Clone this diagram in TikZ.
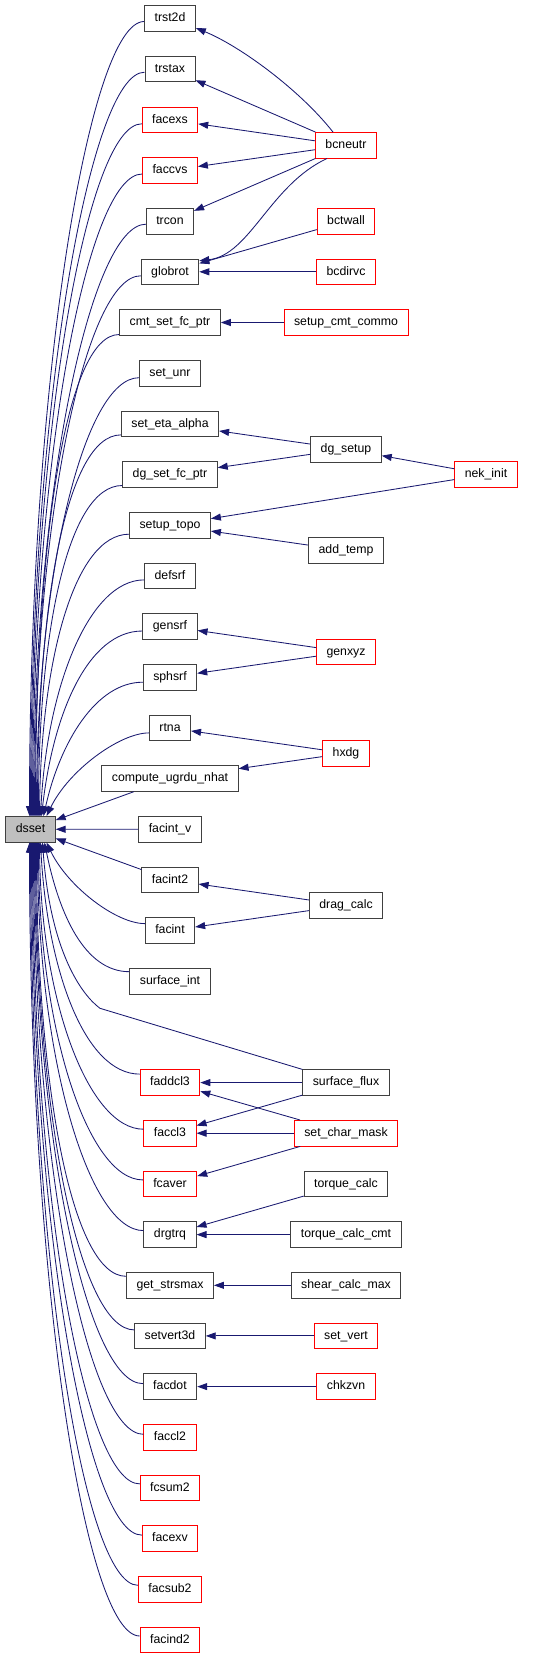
\documentclass[tikz,border=0pt]{standalone}
\usepackage{fontspec}
\setmainfont{Liberation Sans}
\usetikzlibrary{arrows.meta,calc}
\definecolor{edgeblue}{HTML}{191970}
\definecolor{boxline}{HTML}{404040}

\begin{document}
\begin{tikzpicture}[x=1pt,y=1pt,
  box/.style={draw=boxline,line width=0.9pt,fill=white,minimum height=25.5pt,inner xsep=10pt,
    text height=9pt,text depth=2.5pt,font=\fontsize{12.3}{14}\selectfont},
  redbox/.style={box,draw=red},
  callarr/.style={draw=edgeblue,line width=0.85pt,{Triangle[length=10pt,width=7pt]}-}]
\useasboundingbox (0,0) rectangle (552,-1659);

% the function itself
\node[box,fill=gray!50] (dsset) at (30.5,-829.3) {dsset};

% direct callers
\node[box] (trst2d) at (170,-18.5) {trst2d};
\node[box] (trstax) at (170,-69.2) {trstax};
\node[redbox] (facexs) at (170,-119.8) {facexs};
\node[redbox] (faccvs) at (170,-170.5) {faccvs};
\node[box] (trcon) at (170,-221.2) {trcon};
\node[box] (globrot) at (170,-271.8) {globrot};
\node[box] (cmtfc) at (170,-322.5) {cmt\_set\_fc\_ptr};
\node[box] (setunr) at (170,-373.2) {set\_unr};
\node[box] (setetaalpha) at (170,-423.9) {set\_eta\_alpha};
\node[box] (dgsetfc) at (170,-474.5) {dg\_set\_fc\_ptr};
\node[box] (setuptopo) at (170,-525.2) {setup\_topo};
\node[box] (defsrf) at (170,-575.9) {defsrf};
\node[box] (gensrf) at (170,-626.5) {gensrf};
\node[box] (sphsrf) at (170,-677.2) {sphsrf};
\node[box] (rtna) at (170,-727.9) {rtna};
\node[box] (computeugrdu) at (170,-778.5) {compute\_ugrdu\_nhat};
\node[box] (facintv) at (170,-829.2) {facint\_v};
\node[box] (facint2) at (170,-879.9) {facint2};
\node[box] (facint) at (170,-930.6) {facint};
\node[box] (surfaceint) at (170,-981.2) {surface\_int};
\node[redbox] (faddcl3) at (170,-1082.6) {faddcl3};
\node[redbox] (faccl3) at (170,-1133.2) {faccl3};
\node[redbox] (fcaver) at (170,-1183.9) {fcaver};
\node[box] (drgtrq) at (170,-1234.6) {drgtrq};
\node[box] (getstrsmax) at (170,-1285.3) {get\_strsmax};
\node[box] (setvert3d) at (170,-1335.9) {setvert3d};
\node[box] (facdot) at (170,-1386.6) {facdot};
\node[redbox] (faccl2) at (170,-1437.3) {faccl2};
\node[redbox] (fcsum2) at (170,-1487.9) {fcsum2};
\node[redbox] (facexv) at (170,-1538.6) {facexv};
\node[redbox] (facsub2) at (170,-1589.3) {facsub2};
\node[redbox] (facind2) at (170,-1640) {facind2};

% second level callers
\node[redbox] (bcneutr) at (346,-145.3) {bcneutr};
\node[redbox] (bctwall) at (346,-221.2) {bctwall};
\node[redbox] (bcdirvc) at (346,-271.8) {bcdirvc};
\node[redbox] (setupcmt) at (346,-322.5) {setup\_cmt\_commo};
\node[box] (dgsetup) at (346,-449.2) {dg\_setup};
\node[redbox] (nekinit) at (486,-474.5) {nek\_init};
\node[box] (addtemp) at (346,-550.5) {add\_temp};
\node[redbox] (genxyz) at (346,-651.9) {genxyz};
\node[redbox] (hxdg) at (346,-753.2) {hxdg};
\node[box] (dragcalc) at (346,-905.3) {drag\_calc};
\node[box] (surfaceflux) at (346,-1082.6) {surface\_flux};
\node[redbox] (setcharmask) at (346,-1133.2) {set\_char\_mask};
\node[box] (torquecalc) at (346,-1183.9) {torque\_calc};
\node[box] (torquecmt) at (346,-1234.6) {torque\_calc\_cmt};
\node[box] (shearcalc) at (346,-1285.3) {shear\_calc\_max};
\node[redbox] (setvert) at (346,-1335.9) {set\_vert};
\node[redbox] (chkzvn) at (346,-1386.6) {chkzvn};

% fan into dsset
\foreach \nd/\sa/\sx/\ey in {trst2d/north/-1/-3, trstax/north/0/-3, facexs/north/1/-4,
    faccvs/north/2/-3.5, trcon/north/3/-3, globrot/north/4/-4, cmtfc/north/5/-12,
    setunr/north/6/-4.5, setetaalpha/north/7/-11, dgsetfc/north/8/-11, setuptopo/north/9/-9,
    defsrf/north/10/-4, gensrf/north/11/-4.5, sphsrf/north/13/-5, rtna/north/16/-5,
    facint/south/16/7, surfaceint/south/14/9.5, faddcl3/south/10/8.5, faccl3/south/9/4,
    fcaver/south/8/4, drgtrq/south/7/4, getstrsmax/south/6/9, setvert3d/south/5/6,
    facdot/south/4/3, faccl2/south/3/3, fcsum2/south/2/4, facexv/south/1/3.5,
    facsub2/south/0/4, facind2/south/-1/4}
  \draw[callarr] let \p1=([xshift=\sx pt]dsset.\sa), \p2=([yshift=\ey pt]\nd.west),
    \n1={abs(\y2-\y1)}, \n2={min(55,0.35*\n1)}, \n3={0.3*max(0,1-\n1/300)*(\x2-\x1)} in
    (\p1) .. controls ({\x1+\n3},{\y1+0.55*(\y2-\y1)}) and ({\x2-\n2},\y2) .. (\p2);
\draw[callarr] (dsset) -- (computeugrdu);
\draw[callarr] (dsset) -- (facintv);
\draw[callarr] (dsset) -- (facint2);
\coordinate (bend) at (100,-1008.3);
\draw[callarr] ([xshift=12pt]dsset.south) .. controls +(8,-110) and (82,-995) .. (bend)
  -- (surfaceflux.north west);

% second level edges
\draw[callarr] ([yshift=-9.5pt]trst2d.east) .. controls (240,-46) and (300,-90)
  .. ([xshift=-13pt]bcneutr.north);
\foreach \a/\b in {trstax/bcneutr, facexs/bcneutr, faccvs/bcneutr, trcon/bcneutr,
    globrot/bctwall, globrot/bcdirvc, cmtfc/setupcmt, setetaalpha/dgsetup, dgsetfc/dgsetup,
    dgsetup/nekinit, setuptopo/nekinit, setuptopo/addtemp, gensrf/genxyz, sphsrf/genxyz,
    rtna/hxdg, computeugrdu/hxdg, facint2/dragcalc, facint/dragcalc, faddcl3/surfaceflux,
    faccl3/surfaceflux, faddcl3/setcharmask, faccl3/setcharmask, fcaver/setcharmask,
    drgtrq/torquecalc, drgtrq/torquecmt, getstrsmax/shearcalc, setvert3d/setvert, facdot/chkzvn}
  \draw[callarr] (\a) -- (\b);
\draw[callarr] ([yshift=11pt]globrot.east) .. controls (250,-255) and (270,-185)
  .. ([xshift=-19pt]bcneutr.south);
\end{tikzpicture}
\end{document}
